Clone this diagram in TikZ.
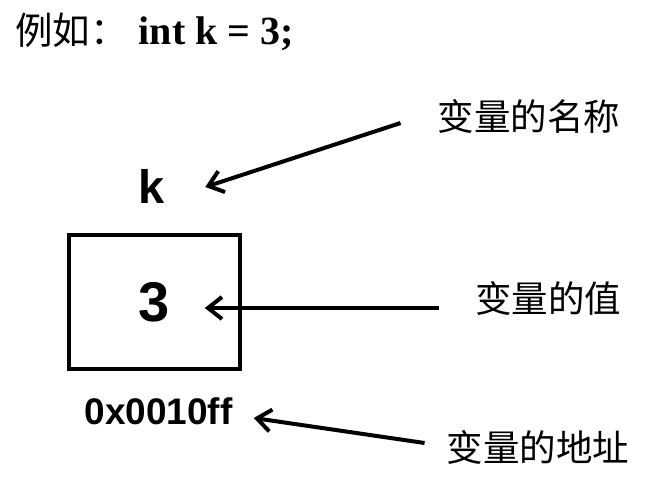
\documentclass[tikz,border=0pt]{standalone}
\usepackage{fontspec}
\setmainfont{Liberation Serif}
\setsansfont{Liberation Sans}
\newfontfamily\cjk{Noto Sans CJK SC}
\usetikzlibrary{arrows.meta}

\tikzset{
  lbl/.style={font=\cjk\fontsize{36.5}{40}\selectfont, inner sep=0pt},
  var/.style={font=\sffamily\bfseries, inner sep=0pt},
  ptr/.style={line width=4pt, -{Straight Barb[length=14pt,width=22pt]}},
}

\begin{document}
\begin{tikzpicture}[x=1pt,y=-1pt]
    \useasboundingbox (0,0) rectangle (646,486);

    % heading
    \node (title) at (15,32) [anchor=west, inner sep=0pt]
        {{\cjk\fontsize{37.5}{40}\selectfont 例如：}\hspace{11pt}{\fontsize{40}{44}\selectfont\bfseries int k = 3;}};

    % the variable
    \node (k) at (152,186) [var, font=\sffamily\bfseries\fontsize{47}{50}\selectfont] {k};
    \node (cell) at (154.5,302) [draw, line width=4pt, minimum width=171pt, minimum height=134pt] {};
    \node (val) at (154,302) [var, font=\sffamily\bfseries\fontsize{56}{60}\selectfont] {3};
    \node (addr) at (158.5,411.5) [var, font=\sffamily\bfseries\fontsize{37}{40}\selectfont] {0x0010ff};

    % labels on the right
    \node (lblname) at (529,117) [lbl] {变量的名称};
    \node (lblval) at (548,299) [lbl] {变量的值};
    \node (lbladdr) at (538,448) [lbl] {变量的地址};

    % arrow ends
    \coordinate (ntail) at ([xshift=-37pt,yshift=-6pt]lblname.west);
    \coordinate (ntip) at ([xshift=40pt,yshift=-1pt]k.east);
    \coordinate (vtail) at ([xshift=-36pt,yshift=-9pt]lblval.west);
    \coordinate (vtip) at ([xshift=35pt,yshift=-6pt]val.east);
    \coordinate (atail) at ([xshift=-22pt,yshift=5pt]lbladdr.west);
    \coordinate (atip) at ([xshift=21pt,yshift=-6.5pt]addr.east);

    \draw[ptr] (ntail) -- (ntip);
    \draw[ptr] (vtail) -- (vtip);
    \draw[ptr] (atail) -- (atip);

\end{tikzpicture}
\end{document}
